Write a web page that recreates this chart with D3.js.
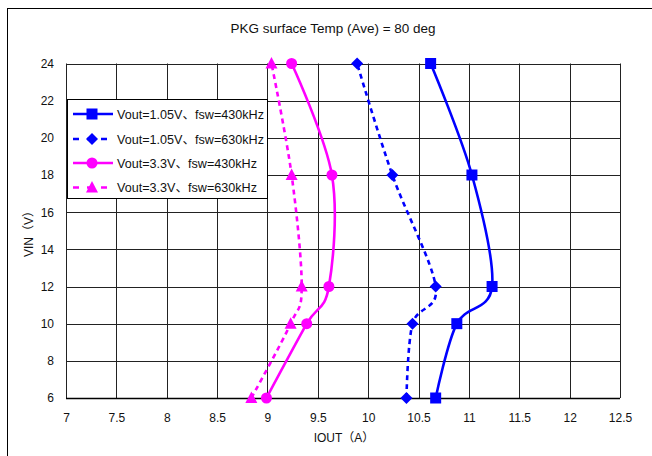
<!DOCTYPE html>
<html><head><meta charset="utf-8">
<script src="https://cdn.jsdelivr.net/npm/d3@7"></script>
<style>body{margin:0;background:#fff}svg{display:block}text{font-family:"Liberation Sans",Arial,"Noto Sans CJK JP",sans-serif;fill:#111}</style>
</head><body><svg id="c" width="652" height="456"></svg>
<script>
const vin = [6, 10, 12, 18, 24];
const iout1 = [10.67, 10.88, 11.23, 11.03, 10.62]; // Vout=1.05V fsw=430kHz
const iout2 = [10.38, 10.44, 10.67, 10.24, 9.89];  // Vout=1.05V fsw=630kHz
const iout3 = [8.99, 9.39, 9.61, 9.64, 9.24];      // Vout=3.3V fsw=430kHz
const iout4 = [8.84, 9.23, 9.34, 9.24, 9.04];      // Vout=3.3V fsw=630kHz
const seriesNames = ["Vout=1.05V、fsw=430kHz","Vout=1.05V、fsw=630kHz","Vout=3.3V、fsw=430kHz","Vout=3.3V、fsw=630kHz"];
const xTicks = [7,7.5,8,8.5,9,9.5,10,10.5,11,11.5,12,12.5];
const yTicks = [6,8,10,12,14,16,18,20,22,24];
const title = "PKG surface Temp (Ave) = 80 deg";

const svg = d3.select("#c");
const L=66, R=620, T=63.5, B=398;
const x = d3.scaleLinear().domain([7,12.5]).range([L,R]);
const y = d3.scaleLinear().domain([6,24]).range([B,T]);

// outer frame
svg.append("rect").attr("x",7.5).attr("y",8.5).attr("width",700).attr("height",500)
  .attr("fill","#fff").attr("stroke","#000").attr("stroke-width",1);

// grid
const g = svg.append("g");
g.selectAll(".vx").data(xTicks).join("line")
  .attr("x1",d=>Math.round(x(d))+0.5).attr("x2",d=>Math.round(x(d))+0.5)
  .attr("y1",T).attr("y2",B).attr("stroke","#222").attr("stroke-width",1);
g.selectAll(".hy").data(yTicks).join("line")
  .attr("y1",d=>Math.round(y(d))+0.5).attr("y2",d=>Math.round(y(d))+0.5)
  .attr("x1",L).attr("x2",R).attr("stroke","#222").attr("stroke-width",1);
g.append("line").attr("x1",L).attr("x2",R).attr("y1",Math.round(B)+0.5).attr("y2",Math.round(B)+0.5).attr("stroke","#000").attr("stroke-width",1.5);

// axes labels
const xa = d3.axisBottom(x).tickValues(xTicks).tickSize(0).tickPadding(0).tickFormat(d=>String(d));
const xg = svg.append("g").attr("transform",`translate(0,${B})`).call(xa);
xg.select(".domain").remove();
xg.selectAll("text").attr("dy",null).attr("y",24).style("font-size","12px").attr("fill","#111");
const ya = d3.axisLeft(y).tickValues(yTicks).tickSize(0).tickPadding(0).tickFormat(d=>String(d));
const yg = svg.append("g").attr("transform",`translate(${L-12},0)`).call(ya);
yg.select(".domain").remove();
yg.selectAll("text").style("font-size","12px").attr("fill","#111");

svg.append("text").attr("x",333).attr("y",33).attr("text-anchor","middle").style("font-size","13px")
  .attr("textLength",205).attr("lengthAdjust","spacingAndGlyphs").text(title);
svg.append("text").attr("x",344).attr("y",442).attr("text-anchor","middle").style("font-size","12px").text("IOUT（A）");
svg.append("text").attr("transform","translate(33,231) rotate(-90)").attr("text-anchor","middle").style("font-size","12px").text("VIN（V）");

const series = [
  {vals:iout1,color:"#0000ff",dash:null,sym:"square"},
  {vals:iout2,color:"#0000ff",dash:"5,4",sym:"diamond"},
  {vals:iout3,color:"#ff00ff",dash:null,sym:"circle"},
  {vals:iout4,color:"#ff00ff",dash:"5,4",sym:"triangle"}
];
function marker(sel, sym, color){
  if(sym==="square") sel.append("rect").attr("x",-5.5).attr("y",-5.5).attr("width",11).attr("height",11).attr("fill",color);
  else if(sym==="diamond") sel.append("path").attr("d","M0,-6L6,0L0,6L-6,0Z").attr("fill",color);
  else if(sym==="circle") sel.append("circle").attr("r",5.5).attr("fill",color);
  else sel.append("path").attr("d","M0,-6.5L6,5L-6,5Z").attr("fill",color);
}
const line = d3.line().x(d=>x(d[0])).y(d=>y(d[1])).curve(d3.curveCatmullRom.alpha(0));
series.forEach(s=>{
  const pts = s.vals.map((v,i)=>[v,vin[i]]);
  svg.append("path").attr("d",line(pts)).attr("fill","none").attr("stroke",s.color)
    .attr("stroke-width",2.6).attr("stroke-dasharray",s.dash);
  pts.forEach(p=>{
    const m = svg.append("g").attr("transform",`translate(${x(p[0])},${y(p[1])})`);
    marker(m,s.sym,s.color);
  });
});

// legend
const lg = svg.append("g");
lg.append("rect").attr("x",67.5).attr("y",99.5).attr("width",200).attr("height",99).attr("fill","#fff").attr("stroke","#000").attr("stroke-width",1);
const ly = [114,139,163,187.5];
series.forEach((s,i)=>{
  lg.append("line").attr("x1",73).attr("x2",113).attr("y1",ly[i]).attr("y2",ly[i])
    .attr("stroke",s.color).attr("stroke-width",2.6).attr("stroke-dasharray",s.dash?"6,8":null)
    .attr("stroke-dashoffset",s.dash?0:null);
  const m = lg.append("g").attr("transform",`translate(92,${ly[i]})`);
  marker(m,s.sym,s.color);
  lg.append("text").attr("x",117).attr("y",ly[i]+4.5).style("font-size","12.5px")
    .attr("textLength",i<2?147:140).attr("lengthAdjust","spacingAndGlyphs").text(seriesNames[i]);
});
</script></body></html>
